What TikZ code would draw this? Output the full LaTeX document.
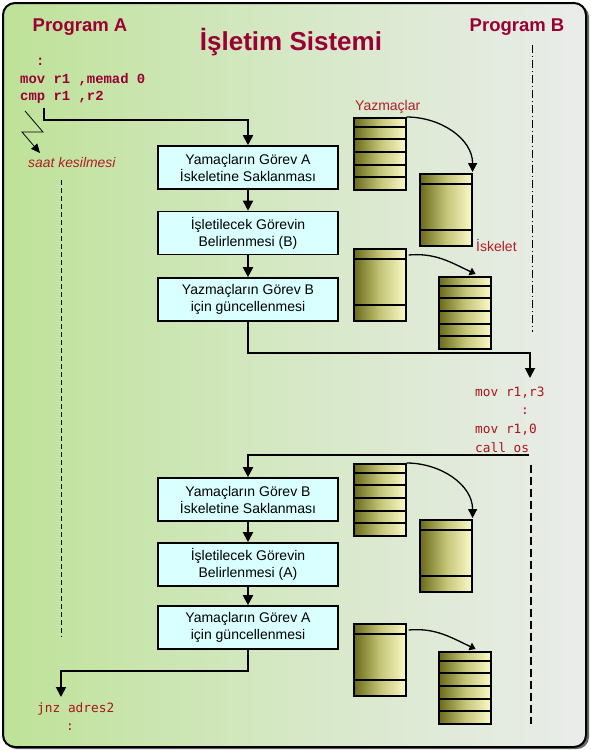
\documentclass[tikz,border=0pt]{standalone}
\usepackage{fontspec}
\setmainfont{Liberation Sans}
\newfontfamily\cmono{Liberation Mono}
\newfontfamily\dmono{DejaVu Sans Mono}
\usetikzlibrary{arrows.meta,calc}
\definecolor{titred}{RGB}{153,0,51}
\definecolor{codered}{RGB}{170,20,30}
\definecolor{lblred}{RGB}{175,30,40}
\definecolor{bgleft}{RGB}{190,226,152}
\definecolor{bgmid}{RGB}{214,232,198}
\definecolor{bgright}{RGB}{234,236,234}
\definecolor{boxcyan}{RGB}{217,255,255}
\definecolor{stkdark}{RGB}{105,105,25}
\definecolor{stkmid}{RGB}{196,196,120}
\definecolor{stklight}{RGB}{250,250,200}
\tikzset{
  box/.style={draw, line width=1.6pt, fill=boxcyan, minimum width=180pt, minimum height=43pt,
    align=center, inner sep=0pt, font=\fontsize{14}{17}\selectfont},
  conn/.style={line width=1.8pt, -{Triangle[length=10pt,width=10pt]}},
  curv/.style={line width=1.3pt, -{Triangle[length=9pt,width=9pt]}},
  curvs/.style={line width=1.3pt, -{Triangle[length=6pt,width=8pt]}},
  stk/.style={draw, line width=1.6pt, left color=stkdark, right color=stklight, middle color=stkmid,
    minimum width=52pt, minimum height=72pt, inner sep=0pt, anchor=north west},
  stkline/.style={line width=1.6pt},
  codeA/.style={font=\cmono\bfseries\fontsize{13.9}{16}\selectfont, text=titred, anchor=base west, inner sep=0pt},
  codeB/.style={font=\dmono\fontsize{12.8}{15}\selectfont, text=codered, anchor=base west, inner sep=0pt},
  lbl/.style={font=\fontsize{14}{16}\selectfont, text=lblred, anchor=base west, inner sep=0pt},
  prog/.style={font=\bfseries\fontsize{18.5}{20}\selectfont, text=titred, anchor=base, inner sep=0pt},
}
\newcommand{\regstk}[3]{%
  \node[stk] (#1) at (#2,#3) {};
  \foreach \d in {10,22,35,48,60}
    \draw[stkline] ([yshift=-\d pt]#1.north west) -- ([yshift=-\d pt]#1.north east);
}
\newcommand{\skelstk}[3]{%
  \node[stk] (#1) at (#2,#3) {};
  \foreach \d in {11,57}
    \draw[stkline] ([yshift=-\d pt]#1.north west) -- ([yshift=-\d pt]#1.north east);
}
\begin{document}
\begin{tikzpicture}[x=1pt,y=-1pt]
\useasboundingbox (0,0) rectangle (591,750);
% frame
\fill[gray!80!black, rounded corners=12pt] (5,5) rectangle (589,749);
\draw[line width=2pt, rounded corners=12pt, left color=bgleft, right color=bgright, middle color=bgmid]
  (3,3) rectangle (586,747);

% titles
\node[font=\bfseries\fontsize{26}{30}\selectfont, text=titred, anchor=base] (title) at (291,50) {İşletim Sistemi};
\node[prog] (progA) at (80,31) {Program A};
\node[prog] (progB) at (517,31) {Program B};

% program A code
\node[codeA] (cA0) at (36,65) {:};
\node[codeA] (cA1) at (20,83) {mov r1 ,memad 0};
\node[codeA] (cA2) at (20,100) {cmp r1 ,r2};

% interrupt lightning
\coordinate (l1) at (25,111);
\coordinate (l2) at (43,132);
\coordinate (l3) at (22,132);
\coordinate (l4) at (40,153);
\draw[line width=0.8pt, -{Triangle[length=9pt,width=8pt]}] (l1) -- (l2) -- (l3) -- (l4);
\node[font=\itshape\fontsize{13.9}{16}\selectfont, text=lblred, anchor=base west, inner sep=0pt] (saat) at (28,167) {saat kesilmesi};

% dashed timelines
\draw[line width=0.9pt, dash pattern=on 5pt off 3pt] (61,180) -- (61,637);
\draw[line width=0.9pt, dash pattern=on 8pt off 3pt on 1pt off 3pt] (532,45) -- (532,332);
\draw[line width=1.8pt, dash pattern=on 8pt off 4pt] (531,465) -- (531,724);

% OS boxes
\node[box] (b1) at (248,167.5) {Yamaçların Görev A\\İskeletine Saklanması};
\node[box] (b2) at (248,233) {İşletilecek Görevin\\Belirlenmesi (B)};
\node[box] (b3) at (248,299.5) {Yazmaçların Görev B\\için güncellenmesi};
\node[box] (b4) at (248,499.5) {Yamaçların Görev B\\İskeletine Saklanması};
\node[box] (b5) at (248,564.5) {İşletilecek Görevin\\Belirlenmesi (A)};
\node[box] (b6) at (248,627.5) {Yamaçların Görev A\\için güncellenmesi};

% program B code
\node[codeB] (cB1) at (475,396) {mov r1,r3};
\node[codeB] (cB2) at (521,414) {:};
\node[codeB] (cB3) at (475,433) {mov r1,0};
\node[codeB] (cB4) at (475,452) {call os};

% program A return code
\node[codeB] (cC1) at (37,712) {jnz adres2};
\node[codeB] (cC2) at (66,730) {:};

% connectors
\coordinate (a0) at (44,108);
\coordinate (a1) at (44,120);
\draw[conn] (a0) -- (a1) -| (b1.north);
\draw[conn] (b1) -- (b2);
\draw[conn] (b2) -- (b3);
\coordinate (k1) at (530,353);
\coordinate (pB) at (530,378);
\draw[conn] (b3.south) |- (k1) -- (pB);
\coordinate (c1) at (529,455);
\draw[conn] (c1) -| (b4.north);
\draw[conn] (b4) -- (b5);
\draw[conn] (b5) -- (b6);
\coordinate (k2) at (61,671);
\coordinate (pA) at (61,697);
\draw[conn] (b6.south) |- (k2) -- (pA);

% register / skeleton stacks
\node[lbl] (yaz) at (355,110) {Yazmaçlar};
\node[lbl] (isk) at (476,251) {İskelet};
\regstk{s1}{353}{117}
\skelstk{s2}{419}{173}
\skelstk{s3}{353}{248}
\regstk{s4}{438}{276}
\regstk{s5}{353}{463}
\skelstk{s6}{419}{519}
\skelstk{s7}{353}{623}
\regstk{s8}{438}{651}

\draw[curv] (s1.north east) to[out=0,in=90] ([yshift=1pt]s2.north east);
\draw[curvs] ([xshift=2pt,yshift=-7pt]s3.north east) to[out=5,in=155] ([xshift=-16pt,yshift=2pt]s4.north east);
\draw[curv] (s5.north east) to[out=0,in=90] ([yshift=1pt]s6.north east);
\draw[curvs] ([xshift=2pt,yshift=-7pt]s7.north east) to[out=5,in=155] ([xshift=-16pt,yshift=2pt]s8.north east);
\end{tikzpicture}
\end{document}
